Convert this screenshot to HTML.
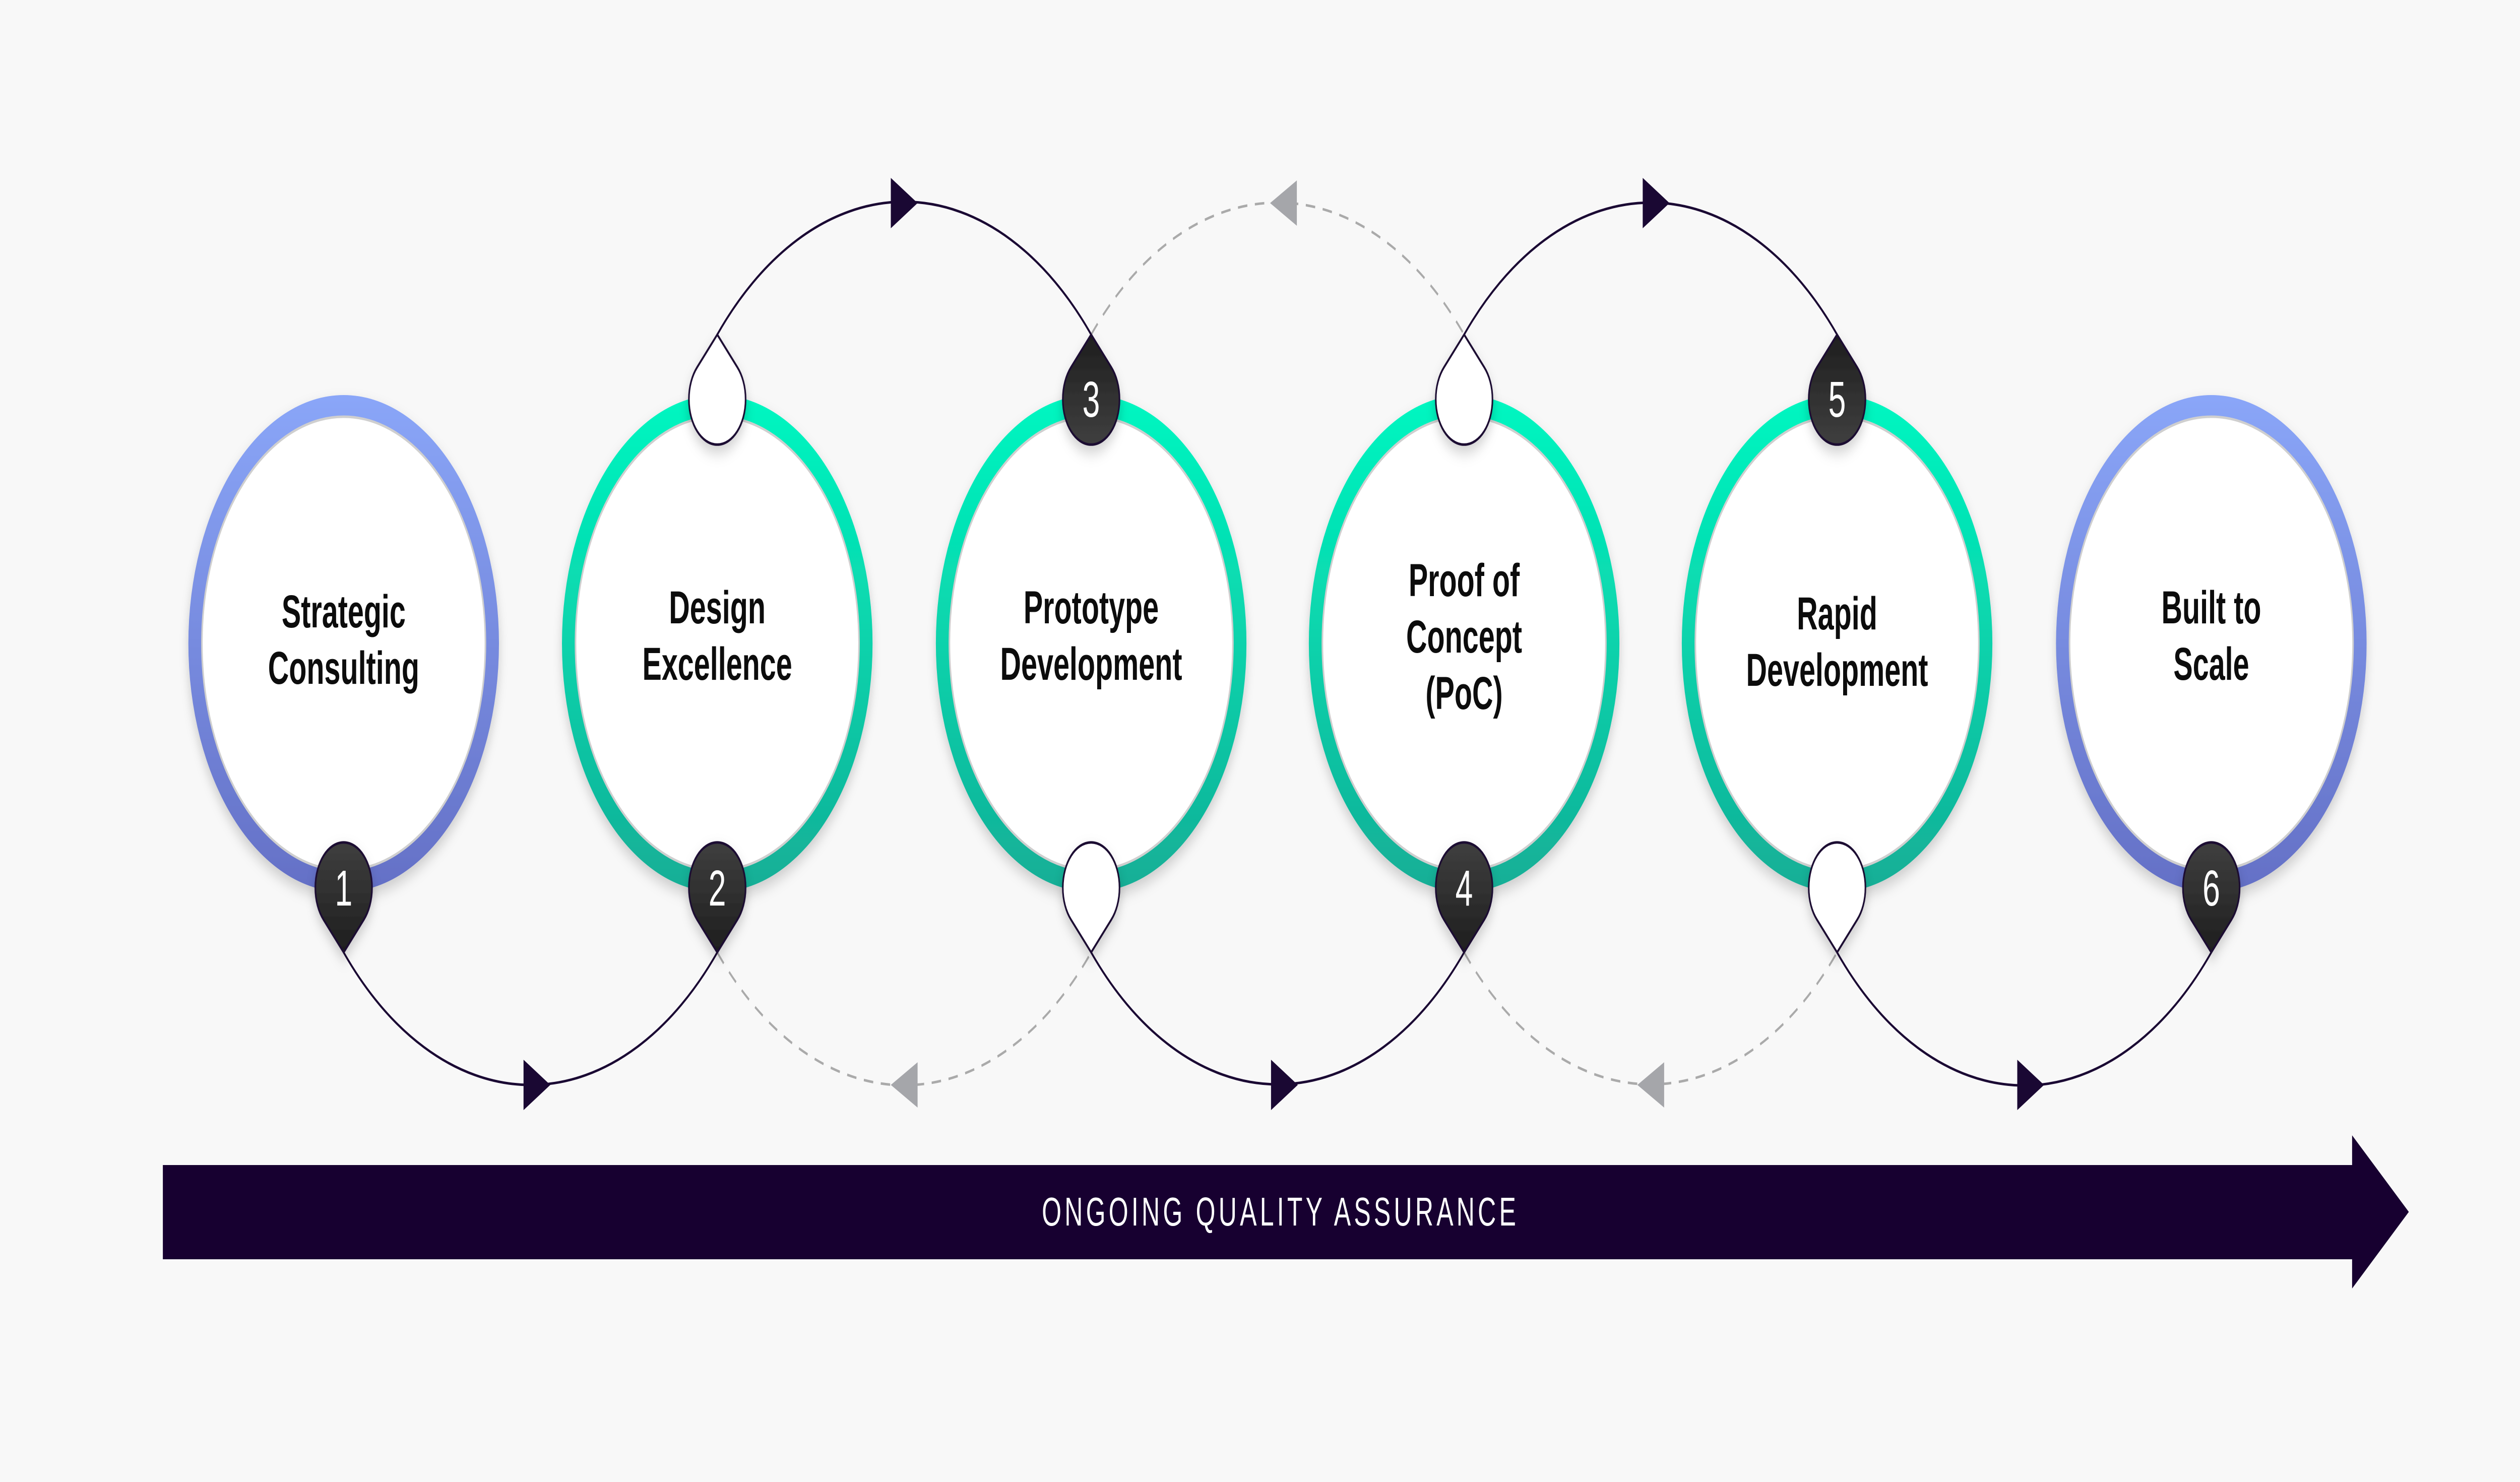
<!DOCTYPE html>
<html><head><meta charset="utf-8"><style>
html,body{margin:0;padding:0;background:#f8f8f8;width:100%;height:100%;overflow:hidden;}
svg{display:block;width:100vw;height:100vh;}
</style></head><body>
<svg viewBox="0 0 8000 2941" preserveAspectRatio="none" xmlns="http://www.w3.org/2000/svg">
<defs>
<linearGradient id="gb" x1="0" y1="0" x2="0" y2="1"><stop offset="0" stop-color="#8aa6f8"/><stop offset="1" stop-color="#6470c6"/></linearGradient>
<linearGradient id="gt" x1="0" y1="0" x2="0" y2="1"><stop offset="0" stop-color="#00f7c1"/><stop offset="1" stop-color="#14ae96"/></linearGradient>
<linearGradient id="gd" x1="0" y1="0" x2="0" y2="1"><stop offset="0" stop-color="#3f3f3f"/><stop offset="1" stop-color="#1e1e1e"/></linearGradient>
<linearGradient id="gdu" x1="0" y1="1" x2="0" y2="0"><stop offset="0" stop-color="#3f3f3f"/><stop offset="1" stop-color="#1e1e1e"/></linearGradient>
<filter id="sh" x="-20%" y="-20%" width="140%" height="140%"><feDropShadow dx="0" dy="14" stdDeviation="14" flood-color="#000" flood-opacity="0.18"/></filter>
</defs>
<rect width="8000" height="2941" fill="#f8f8f8"/>

<g fill="none" stroke-width="5">
<path d="M1091 1890 A800 800 0 0 0 2277 1890" stroke="#1a0833"/>
<path d="M2277 1890 A800 800 0 0 0 3464 1890" stroke="#aaaaaa" stroke-dasharray="30 24"/>
<path d="M3464 1890 A800 800 0 0 0 4648 1890" stroke="#1a0833"/>
<path d="M4648 1890 A800 800 0 0 0 5832 1890" stroke="#aaaaaa" stroke-dasharray="30 24"/>
<path d="M5832 1890 A800 800 0 0 0 7020 1890" stroke="#1a0833"/>
<path d="M2277 664 A800 800 0 0 1 3464 664" stroke="#1a0833"/>
<path d="M3464 664 A800 800 0 0 1 4648 664" stroke="#aaaaaa" stroke-dasharray="30 24"/>
<path d="M4648 664 A800 800 0 0 1 5832 664" stroke="#1a0833"/>
</g>
<g>
<path d="M1662 2103 L1747 2153 L1662 2203 Z" fill="#1a0833"/>
<path d="M2913 2108 L2828 2153 L2913 2198 Z" fill="#a5a6aa"/>
<path d="M4035 2103 L4120 2153 L4035 2203 Z" fill="#1a0833"/>
<path d="M5283 2108 L5198 2153 L5283 2198 Z" fill="#a5a6aa"/>
<path d="M6404 2103 L6489 2153 L6404 2203 Z" fill="#1a0833"/>
<path d="M2828 353 L2913 403 L2828 453 Z" fill="#1a0833"/>
<path d="M4117 358 L4032 403 L4117 448 Z" fill="#a5a6aa"/>
<path d="M5215 353 L5300 403 L5215 453 Z" fill="#1a0833"/>
</g>

<g filter="url(#sh)">
<circle cx="1091" cy="1277" r="493" fill="url(#gb)"/>
<circle cx="2277" cy="1277" r="493" fill="url(#gt)"/>
<circle cx="3464" cy="1277" r="493" fill="url(#gt)"/>
<circle cx="4648" cy="1277" r="493" fill="url(#gt)"/>
<circle cx="5832" cy="1277" r="493" fill="url(#gt)"/>
<circle cx="7020" cy="1277" r="493" fill="url(#gb)"/>
</g>
<g fill="#fff" stroke="#cfcfcf" stroke-width="5">
<circle cx="1091" cy="1277" r="450"/>
<circle cx="2277" cy="1277" r="450"/>
<circle cx="3464" cy="1277" r="450"/>
<circle cx="4648" cy="1277" r="450"/>
<circle cx="5832" cy="1277" r="450"/>
<circle cx="7020" cy="1277" r="450"/>
</g>

<g font-family="'Liberation Sans', sans-serif" font-weight="bold" font-size="92" fill="#0c0c0c" text-anchor="middle">
<text x="1091" y="1245">Strategic</text><text x="1091" y="1357">Consulting</text>
<text x="2277" y="1237">Design</text><text x="2277" y="1349">Excellence</text>
<text x="3464" y="1237">Prototype</text><text x="3464" y="1349">Development</text>
<text x="4648" y="1183">Proof of</text><text x="4648" y="1295">Concept</text><text x="4648" y="1407">(PoC)</text>
<text x="5832" y="1249">Rapid</text><text x="5832" y="1361">Development</text>
<text x="7020" y="1237">Built to</text><text x="7020" y="1349">Scale</text>
</g>

<g stroke="#1a0833" stroke-width="5" filter="url(#sh)">
<path transform="translate(1091 1762)" d="M0 128 L-64 63 A90 90 0 1 1 64 63 Z" fill="url(#gd)"/>
<path transform="translate(2277 1762)" d="M0 128 L-64 63 A90 90 0 1 1 64 63 Z" fill="url(#gd)"/>
<path transform="translate(4648 1762)" d="M0 128 L-64 63 A90 90 0 1 1 64 63 Z" fill="url(#gd)"/>
<path transform="translate(7020 1762)" d="M0 128 L-64 63 A90 90 0 1 1 64 63 Z" fill="url(#gd)"/>
<path transform="translate(3464 1762)" d="M0 128 L-64 63 A90 90 0 1 1 64 63 Z" fill="#fff"/>
<path transform="translate(5832 1762)" d="M0 128 L-64 63 A90 90 0 1 1 64 63 Z" fill="#fff"/>
<path transform="translate(2277 792)" d="M0 -128 L-64 -63 A90 90 0 1 0 64 -63 Z" fill="#fff"/>
<path transform="translate(4648 792)" d="M0 -128 L-64 -63 A90 90 0 1 0 64 -63 Z" fill="#fff"/>
<path transform="translate(3464 792)" d="M0 -128 L-64 -63 A90 90 0 1 0 64 -63 Z" fill="url(#gdu)"/>
<path transform="translate(5832 792)" d="M0 -128 L-64 -63 A90 90 0 1 0 64 -63 Z" fill="url(#gdu)"/>
</g>
<g font-family="'Liberation Sans', sans-serif" font-size="100" fill="#fff" text-anchor="middle">
<text x="1091" y="1797">1</text>
<text x="2277" y="1797">2</text>
<text x="3464" y="827">3</text>
<text x="4648" y="1797">4</text>
<text x="5832" y="827">5</text>
<text x="7020" y="1797">6</text>
</g>

<path d="M517 2312 L7467 2312 L7467 2253 L7647 2405 L7467 2557 L7467 2499 L517 2499 Z" fill="#170030"/>
<text x="4065" y="2432" font-family="'Liberation Sans', sans-serif" font-size="80" fill="#fff" text-anchor="middle" letter-spacing="10">ONGOING QUALITY ASSURANCE</text>
</svg>
</body></html>
